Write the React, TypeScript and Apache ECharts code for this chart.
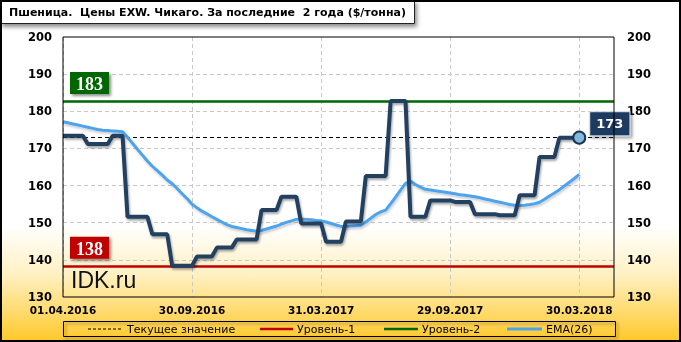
import React, { useEffect, useRef } from "react";
import * as echarts from "echarts";

// Weekly categories (Fridays) starting 01.04.2016
const START_UTC = Date.UTC(2016, 3, 1);
const WEEK_COUNT = 112;
const categories: string[] = [];
for (let i = 0; i < WEEK_COUNT; i++) {
  const d = new Date(START_UTC + i * 7 * 86400000);
  const dd = String(d.getUTCDate()).padStart(2, "0");
  const mm = String(d.getUTCMonth() + 1).padStart(2, "0");
  categories.push(`${dd}.${mm}.${d.getUTCFullYear()}`);
}

const price: number[] = [
  173.4, 173.4, 173.4, 173.4, 173.4,
  171.2, 171.2, 171.2, 171.2, 171.2,
  173.4, 173.4, 173.4,
  151.6, 151.6, 151.6, 151.6, 151.6,
  146.9, 146.9, 146.9, 146.9,
  138.4, 138.4, 138.4, 138.4, 138.4,
  140.9, 140.9, 140.9, 140.9,
  143.3, 143.3, 143.3, 143.3,
  145.5, 145.5, 145.5, 145.5, 145.5,
  153.4, 153.4, 153.4, 153.4,
  157.0, 157.0, 157.0, 157.0,
  149.8, 149.8, 149.8, 149.8, 149.8,
  144.9, 144.9, 144.9, 144.9,
  150.3, 150.3, 150.3, 150.3,
  162.6, 162.6, 162.6, 162.6, 162.6,
  182.8, 182.8, 182.8, 182.8,
  151.6, 151.6, 151.6, 151.6,
  156.0, 156.0, 156.0, 156.0, 156.0,
  155.6, 155.6, 155.6, 155.6,
  152.3, 152.3, 152.3, 152.3, 152.3,
  152.0, 152.0, 152.0, 152.0,
  157.4, 157.4, 157.4, 157.4,
  167.7, 167.7, 167.7, 167.7,
  172.9, 172.9, 172.9, 172.9, 172.9,
];

const ema26: number[] = [
  177.2, 176.9, 176.6, 176.3, 176.0, 175.7, 175.4, 175.1, 174.9, 174.8, 174.7, 174.6, 174.5,
  173.0, 171.4, 169.8, 168.2, 166.6, 165.2, 164.0, 162.8, 161.5, 160.5, 159.2, 157.8, 156.5, 155.0,
  154.0, 153.1, 152.4, 151.6, 150.9, 150.2, 149.5, 149.0, 148.7, 148.4, 148.1, 147.9, 147.7,
  147.9, 148.3, 148.7, 149.1, 149.6, 150.1, 150.5, 150.9, 151.0, 150.9, 150.8, 150.6, 150.5,
  150.2, 149.8, 149.4, 149.0, 149.0, 149.1, 149.2, 149.3,
  150.2, 151.2, 152.2, 152.9, 153.4, 155.1, 156.9, 158.8,
  160.6, 161.2, 160.3, 159.6, 159.0, 158.8, 158.6, 158.4, 158.2, 158.0, 157.8, 157.5, 157.4, 157.2,
  157.0, 156.7, 156.4, 156.1, 155.8, 155.5, 155.2, 154.9, 154.7, 154.6, 154.7, 154.9, 155.1,
  155.5, 156.3, 157.2, 158.0, 158.9, 159.9, 160.9, 161.9, 163.0,
];

const Y_MIN = 130;
const Y_MAX = 200;
const Y_STEP = 10;
const LABEL_EVERY = 26;

const TITLE = "Пшеница.  Цены EXW. Чикаго. За последние  2 года ($/тонна)";
const LEGEND_NAMES = ["Текущее значение", "Уровень-1", "Уровень-2", "EMA(26)"];
const WATERMARK = "IDK.ru";

const level1 = Math.min(...price);
const level2 = Math.max(...price);
const current = price[price.length - 1];

const NAVY = "#243F60";
const GREEN = "#006600";
const RED = "#C00000";
const BLUE = "#4DA3EE";

export default function App() {
  const ref = useRef<HTMLDivElement>(null);

  useEffect(() => {
    document.body.style.margin = "0";
    const chart = echarts.init(ref.current!, null, { renderer: "svg" });

    const lastIdx = price.length - 1;
    const priceData: any[] = price.map((v, i) =>
      i === lastIdx
        ? {
            value: v,
            symbol: "circle",
            symbolSize: 12,
            itemStyle: { color: "#80BCDA", borderColor: "#1B355A", borderWidth: 2 },
            label: {
              show: true,
              position: "right",
              distance: 4,
              offset: [0, -14],
              formatter: () => String(Math.round(v)),
              backgroundColor: "#1F3A5F",
              borderColor: "#C9D6E3",
              borderWidth: 1,
              color: "#fff",
              fontFamily: "DejaVu Sans",
              fontWeight: "bold",
              fontSize: 13,
              lineHeight: 15,
              padding: [5, 6, 3, 6],
              shadowColor: "rgba(0,0,0,0.4)",
              shadowBlur: 3,
              shadowOffsetX: 2,
              shadowOffsetY: 2,
            },
          }
        : v
    );

    const showIdx = (i: number) => i % LABEL_EVERY === 0 && i <= lastIdx;
    const gridLine = { color: "#C8C8C8", width: 1, type: [4, 3] as any };
    const axisFont = { fontFamily: "DejaVu Sans", fontWeight: "bold" as const, color: "#000" };

    const levelLabel = (color: string, val: number) => ({
      show: true,
      position: "insideStartTop",
      distance: [7, 7],
      formatter: () => String(Math.round(val)),
      backgroundColor: color,
      color: "#fff",
      fontFamily: "Liberation Serif",
      fontWeight: "bold",
      fontSize: 18,
      lineHeight: 18,
      padding: [3, 6, 1, 6],
      shadowColor: "rgba(0,0,0,0.45)",
      shadowBlur: 3,
      shadowOffsetX: 2,
      shadowOffsetY: 2,
    });
    const lineShadow = {
      shadowColor: "rgba(0,0,0,0.35)",
      shadowBlur: 2,
      shadowOffsetX: 1,
      shadowOffsetY: 2,
    };

    // legend layout
    const ly = 329;
    const legendItems = [
      { x1: 88, x2: 121, tx: 127, color: "#000", width: 1, dash: [3, 2] },
      { x1: 260, x2: 293, tx: 297, color: RED, width: 2.5, dash: null },
      { x1: 384, x2: 418, tx: 422, color: GREEN, width: 2.5, dash: null },
      { x1: 507, x2: 542, tx: 546, color: BLUE, width: 3, dash: null },
    ];
    const legendGraphics: any[] = [];
    legendItems.forEach((it, k) => {
      legendGraphics.push({
        type: "line",
        z: 20,
        shape: { x1: it.x1, y1: ly, x2: it.x2, y2: ly },
        style: { stroke: it.color, lineWidth: it.width, lineDash: it.dash || undefined },
      });
      legendGraphics.push({
        type: "text",
        z: 20,
        x: it.tx,
        y: ly,
        style: {
          text: LEGEND_NAMES[k],
          fontFamily: "DejaVu Sans",
          fontSize: 11,
          fill: "#000",
          textVerticalAlign: "middle",
          verticalAlign: "middle",
        },
      });
    });

    chart.setOption({
      animation: false,
      graphic: [
        {
          type: "rect",
          z: -100,
          silent: true,
          shape: { x: 0, y: 0, width: 681, height: 342 },
          style: {
            fill: new echarts.graphic.LinearGradient(0, 0, 0, 1, [
              { offset: 0, color: "#FFFFFF" },
              { offset: 0.66, color: "#FFFFFF" },
              { offset: 0.8, color: "#FFF1C4" },
              { offset: 1, color: "#FFC828" },
            ]),
          },
        },
        {
          type: "rect",
          z: 30,
          silent: true,
          shape: { x: 1, y: 1, width: 679, height: 340 },
          style: { fill: "none", stroke: "#000", lineWidth: 2 },
        },
        {
          type: "rect",
          z: 25,
          shape: { x: 0.5, y: 0.5, width: 414, height: 23 },
          style: {
            fill: "#fff",
            stroke: "#222",
            lineWidth: 1,
            shadowColor: "rgba(0,0,0,0.45)",
            shadowBlur: 4,
            shadowOffsetX: 2,
            shadowOffsetY: 3,
          },
        },
        {
          type: "text",
          z: 26,
          x: 9,
          y: 12,
          style: {
            text: TITLE,
            fontFamily: "DejaVu Sans",
            fontWeight: "bold",
            fontSize: 11,
            fill: "#000",
            textVerticalAlign: "middle",
            verticalAlign: "middle",
          },
        },
        {
          type: "text",
          z: 5,
          x: 71,
          y: 280,
          style: {
            text: WATERMARK,
            fontFamily: "Liberation Sans",
            fontSize: 23,
            fill: "#111",
            textVerticalAlign: "middle",
            verticalAlign: "middle",
          },
        },
        {
          type: "rect",
          z: 19,
          shape: { x: 63.5, y: 321.5, width: 552, height: 15 },
          style: {
            fill: "rgba(255,255,255,0)",
            stroke: "#000",
            lineWidth: 1,
            shadowColor: "rgba(0,0,0,0.4)",
            shadowBlur: 3,
            shadowOffsetX: 2,
            shadowOffsetY: 2,
          },
        },
        ...legendGraphics,
      ],
      grid: {
        left: 63,
        right: 67,
        top: 37,
        bottom: 45,
        show: true,
        borderColor: "#000",
        borderWidth: 1,
        backgroundColor: "transparent",
        z: 10,
      },
      xAxis: {
        type: "category",
        data: categories,
        boundaryGap: false,
        axisLine: { show: false },
        axisTick: { show: false },
        axisLabel: { ...axisFont, fontSize: 10.5, margin: 7, interval: (i: number) => showIdx(i) },
        splitLine: { show: true, interval: (i: number) => showIdx(i), lineStyle: gridLine },
      },
      yAxis: [
        {
          type: "value",
          min: Y_MIN,
          max: Y_MAX,
          interval: Y_STEP,
          position: "left",
          axisLine: { show: false },
          axisTick: { show: false },
          axisLabel: { ...axisFont, fontSize: 11.5, margin: 11 },
          splitLine: { show: true, showMinLine: false, showMaxLine: false, lineStyle: gridLine },
        },
        {
          type: "value",
          min: Y_MIN,
          max: Y_MAX,
          interval: Y_STEP,
          position: "right",
          axisLine: { show: false },
          axisTick: { show: false },
          axisLabel: { ...axisFont, fontSize: 11.5, margin: 13 },
          splitLine: { show: false },
        },
      ],
      series: [
        {
          name: "EMA(26)",
          type: "line",
          data: ema26,
          symbol: "none",
          z: 3,
          lineStyle: { color: BLUE, width: 3, ...lineShadow, shadowColor: "rgba(0,0,0,0.2)" },
        },
        {
          name: "Цена",
          type: "line",
          data: priceData,
          symbol: "none",
          showSymbol: true,
          showAllSymbol: true,
          z: 4,
          lineStyle: { color: NAVY, width: 4, ...lineShadow },
          markLine: {
            silent: true,
            symbol: ["none", "none"],
            z: 2,
            data: [
              {
                yAxis: level2,
                lineStyle: { color: GREEN, width: 2.5, type: "solid" },
                label: levelLabel(GREEN, level2),
              },
              {
                yAxis: level1,
                lineStyle: { color: RED, width: 2.5, type: "solid" },
                label: levelLabel(RED, level1),
              },
              {
                yAxis: current,
                lineStyle: { color: "#000", width: 1, type: [4, 3] },
                label: { show: false },
              },
            ],
          },
        },
      ],
    });

    return () => chart.dispose();
  }, []);

  return (
    <div
      ref={ref}
      style={{ position: "fixed", left: 0, top: 0, width: 681, height: 342 }}
    />
  );
}
